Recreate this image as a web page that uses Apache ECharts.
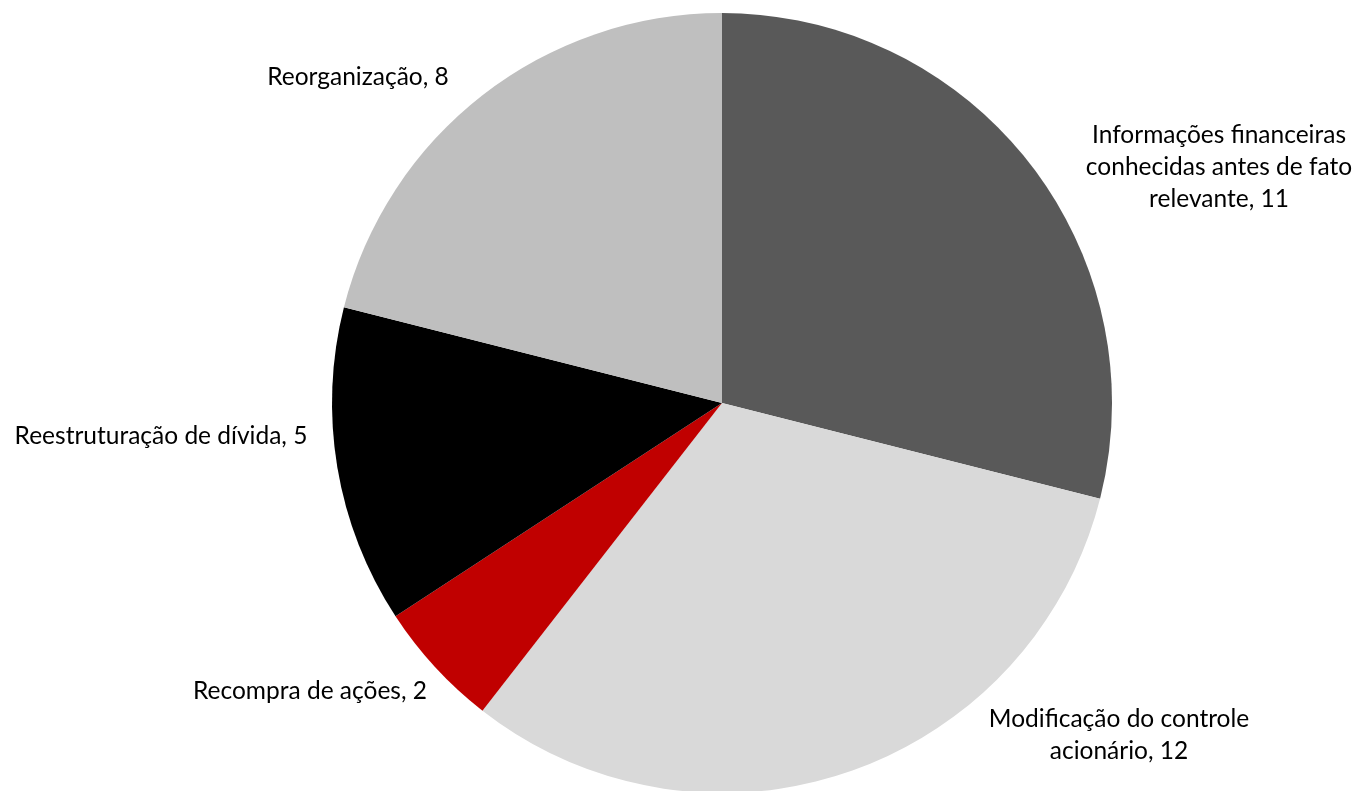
<!DOCTYPE html>
<html>
<head>
<meta charset="utf-8">
<script src="https://cdn.jsdelivr.net/npm/echarts@6/dist/echarts.min.js"></script>
<style>
  html, body { margin: 0; padding: 0; background: #fff; }
  #chart { width: 1357px; height: 791px; }
</style>
</head>
<body>
<div id="chart"></div>
<script>
var categories = [
  "Informações financeiras\nconhecidas antes de fato\nrelevante",
  "Modificação do controle\nacionário",
  "Recompra de ações",
  "Reestruturação de dívida",
  "Reorganização"
];
var values = [11, 12, 2, 5, 8];
var colors = ["#595959", "#d9d9d9", "#c00000", "#000000", "#bfbfbf"];

// label anchor points (centre of text block)
var labelPos = [
  [1219, 167],
  [1119, 735],
  [310, 691],
  [161, 436],
  [358, 77]
];

var myChart = echarts.init(document.getElementById("chart"));
var option = {
  animation: false,
  series: [
    {
      type: "pie",
      center: [722, 403],
      radius: [0, 390],
      startAngle: 90,
      clockwise: true,
      data: categories.map(function (c, i) {
        return { name: c, value: values[i], itemStyle: { color: colors[i] } };
      }),
      itemStyle: { borderWidth: 0 },
      emphasis: { disabled: true },
      label: {
        show: true,
        position: "outside",
        formatter: "{b}, {c}",
        fontFamily: "Lato",
        fontSize: 24.5,
        lineHeight: 32,
        color: "#000",
        align: "center",
        overflow: "none",
        width: 400
      },
      labelLine: { show: false },
      labelLayout: function (params) {
        var p = labelPos[params.dataIndex];
        return { x: p[0], y: p[1], align: "center", verticalAlign: "middle" };
      }
    }
  ]
};
myChart.setOption(option);
</script>
</body>
</html>
